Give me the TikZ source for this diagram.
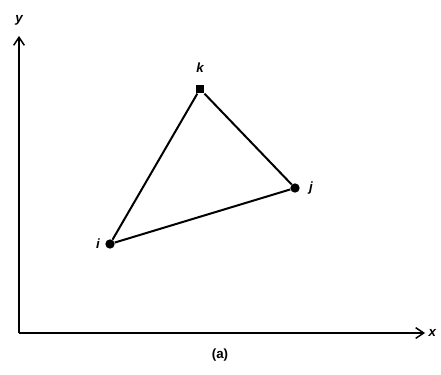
\documentclass[tikz,border=0pt]{standalone}
\usepackage{fontspec}
\setmainfont{Liberation Sans}
\usetikzlibrary{arrows.meta}
\begin{document}
\begin{tikzpicture}[x=0.75pt,y=-0.75pt,
  edge/.style={line width=1.5pt},
  axis/.style={line width=1.5pt,-{Straight Barb[length=6pt,width=8pt,line width=1.1pt]}},
  vtx/.style={circle,fill=black,inner sep=0pt,minimum size=7pt},
  vsq/.style={rectangle,fill=black,inner sep=0pt,minimum size=6.5pt},
  lbl/.style={font=\normalsize\bfseries\itshape,inner sep=1pt}]
\useasboundingbox (0,0) rectangle (441,374);
\coordinate (O) at (19,333);
\coordinate (Y) at (19,36);
\coordinate (X) at (425,333);
\draw[axis] (O) -- (Y);
\draw[axis] (O) -- (X);
\node[lbl] (ly) at (19,20) {y};
\node[lbl,anchor=west] (lx) at (427,333) {x};
\node[vsq] (k) at (200,89) {};
\node[vtx] (j) at (295,188) {};
\node[vtx] (i) at (110,244) {};
\draw[edge] (i) -- (k) -- (j) -- (i);
\node[lbl] (lk) at (200,68) {k};
\node[lbl] (lj) at (311,188) {j};
\node[lbl] (li) at (98,244) {i};
\node[font=\normalsize\bfseries,inner sep=1pt] (cap) at (220,355) {(a)};
\end{tikzpicture}
\end{document}
